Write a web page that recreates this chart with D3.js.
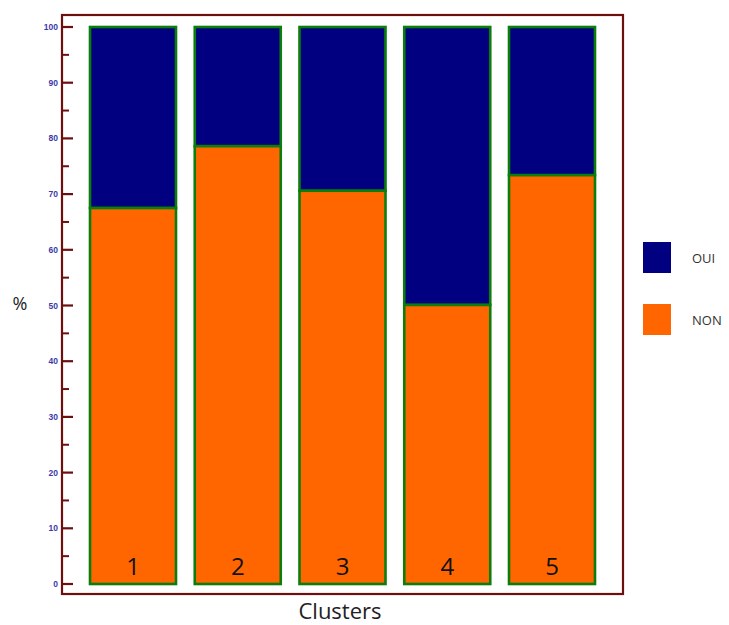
<!DOCTYPE html>
<html><head><meta charset="utf-8">
<script src="https://cdn.jsdelivr.net/npm/d3@7"></script>
<style>body{margin:0;background:#fff}</style>
</head><body>
<svg id="c" width="729" height="625"></svg>
<script>
const categories = ["1","2","3","4","5"];
const nonValues = [67.5, 78.6, 70.6, 50.1, 73.4];
const ouiValues = nonValues.map(v => 100 - v);
const yTicks = [0,10,20,30,40,50,60,70,80,90,100];
const legendLabels = ["OUI","NON"];
const colors = {OUI:"#000080", NON:"#ff6600"};

const svg = d3.select("#c");
const y = d3.scaleLinear().domain([0,100]).range([584, 27]);
const x = d3.scaleBand().domain(categories).range([90, 595]).paddingInner(0.179).paddingOuter(0);

// frame
svg.append("rect").attr("x",62).attr("y",15).attr("width",561).attr("height",579)
  .attr("fill","none").attr("stroke","#6e0f0f").attr("stroke-width",2.2);

// y axis ticks
const minor = d3.range(5,100,10);
svg.selectAll(".mt").data(minor).enter().append("line")
  .attr("x1",62).attr("x2",69).attr("y1",d=>y(d)).attr("y2",d=>y(d))
  .attr("stroke","#6e0f0f").attr("stroke-width",2);
svg.selectAll(".Mt").data(yTicks).enter().append("line")
  .attr("x1",62).attr("x2",73).attr("y1",d=>y(d)).attr("y2",d=>y(d))
  .attr("stroke","#6e0f0f").attr("stroke-width",2.2);
svg.selectAll(".tl").data(yTicks).enter().append("text")
  .attr("x",58).attr("y",d=>y(d)+3).attr("text-anchor","end")
  .attr("font-family","Liberation Sans, Arial").attr("font-size",8.5).attr("font-weight","bold")
  .attr("fill","#3b3ba8").text(d=>d);

// bars
const data = categories.map((c,i)=>({c, non:nonValues[i], oui:ouiValues[i]}));
const g = svg.append("g");
data.forEach(d=>{
  g.append("rect").attr("x",x(d.c)).attr("width",x.bandwidth())
    .attr("y",y(100)).attr("height",y(d.non)-y(100))
    .attr("fill",colors.OUI).attr("stroke","#0a7d0a").attr("stroke-width",2.6);
  g.append("rect").attr("x",x(d.c)).attr("width",x.bandwidth())
    .attr("y",y(d.non)).attr("height",y(0)-y(d.non))
    .attr("fill",colors.NON).attr("stroke","#0a7d0a").attr("stroke-width",2.6);
  g.append("text").attr("x",x(d.c)+x.bandwidth()/2).attr("y",575)
    .attr("text-anchor","middle").attr("font-family","Open Sans, Lato, sans-serif")
    .attr("font-size",24).attr("fill","#111").text(d.c);
});

// axis labels
svg.append("text").attr("x",20).attr("y",310).attr("text-anchor","middle")
  .attr("font-family","Open Sans, sans-serif").attr("font-size",18).attr("fill","#222").text("%");
svg.append("text").attr("x",340).attr("y",619).attr("text-anchor","middle")
  .attr("font-family","Open Sans, sans-serif").attr("font-size",22).attr("fill","#222").text("Clusters");

// legend
legendLabels.forEach((l,i)=>{
  const yy = 242 + i*62;
  svg.append("rect").attr("x",643).attr("y",yy).attr("width",28).attr("height",31)
    .attr("fill",colors[l]);
  svg.append("text").attr("x",692).attr("y",yy+21).attr("font-family","Open Sans, sans-serif")
    .attr("font-size",13).attr("fill","#333").text(l);
});
</script>
</body></html>
